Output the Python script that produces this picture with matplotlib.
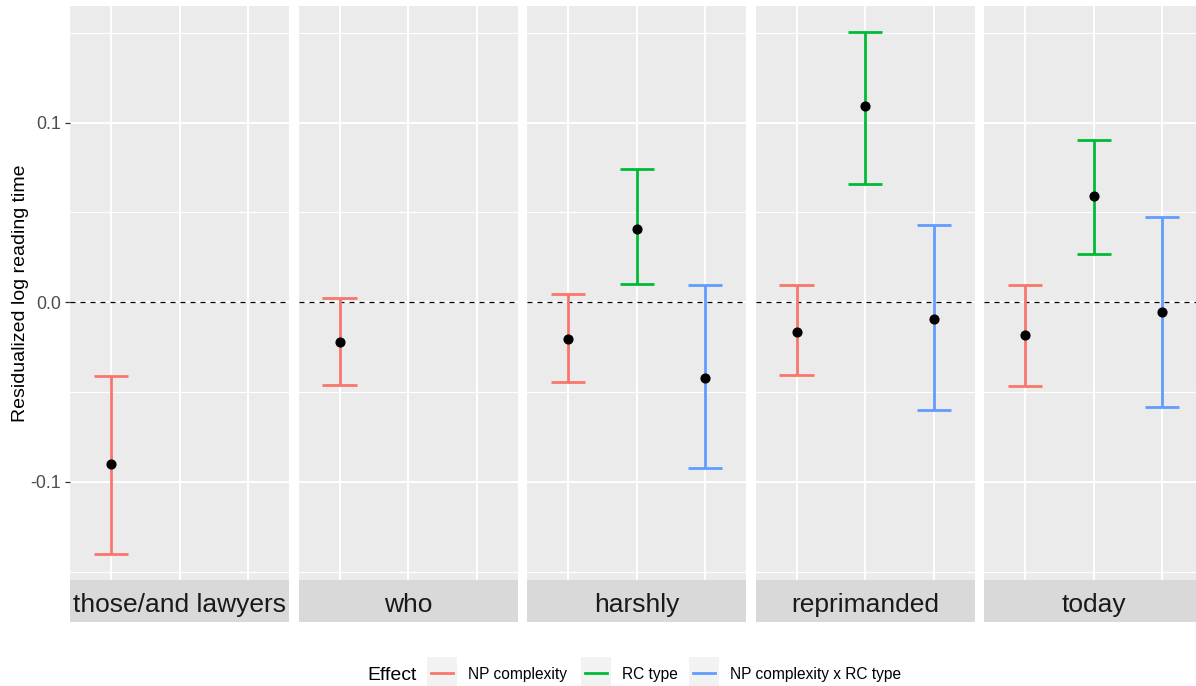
import numpy as np
import matplotlib.pyplot as plt
from matplotlib.patches import Rectangle
from matplotlib.lines import Line2D

plt.rcParams['font.family'] = ['Liberation Sans', 'DejaVu Sans']

# data (NaN = effect not estimated in that region)
regions = ["those/and lawyers", "who", "harshly", "reprimanded", "today"]
effects = ["NP complexity", "RC type", "NP complexity x RC type"]
colors = ["#F8766D", "#00BA38", "#619CFF"]

np_est = [-0.0903, -0.0224, -0.0203, -0.0165, -0.0181]
np_lo = [-0.1401, -0.0460, -0.0444, -0.0407, -0.0467]
np_hi = [-0.0408, 0.0021, 0.0047, 0.0094, 0.0094]

rc_est = [np.nan, np.nan, 0.0410, 0.1090, 0.0589]
rc_lo = [np.nan, np.nan, 0.0101, 0.0661, 0.0270]
rc_hi = [np.nan, np.nan, 0.0744, 0.1504, 0.0903]

int_est = [np.nan, np.nan, -0.0420, -0.0092, -0.0053]
int_lo = [np.nan, np.nan, -0.0923, -0.0602, -0.0585]
int_hi = [np.nan, np.nan, 0.0094, 0.0428, 0.0474]

est = np.array([np_est, rc_est, int_est])
lo = np.array([np_lo, rc_lo, int_lo])
hi = np.array([np_hi, rc_hi, int_hi])

W, H = 1196, 686
fig = plt.figure(figsize=(W / 100, H / 100), dpi=100)


def fx(px):
    return px / W


def fy(py):
    return 1 - py / H


# ggplot-like 5% expansion of the data range
ymin, ymax = np.nanmin(lo), np.nanmax(hi)
pad = 0.05 * (ymax - ymin)
ylim = (ymin - pad, ymax + pad)

panel_left, pitch, panel_w = 70, 228.5, 219.3
panel_top, panel_bot, strip_bot = 6, 580, 622

for i, region in enumerate(regions):
    left = panel_left + i * pitch
    ax = fig.add_axes([fx(left), fy(panel_bot), panel_w / W, (panel_bot - panel_top) / H])
    ax.set_facecolor("#EBEBEB")
    for s in ax.spines.values():
        s.set_visible(False)
    ax.set_xlim(0.4, 3.6)
    ax.set_ylim(*ylim)
    ax.set_xticks([1, 2, 3])
    ax.set_yticks([-0.1, 0.0, 0.1])
    ax.set_yticks([-0.15, -0.05, 0.05, 0.15], minor=True)
    ax.grid(which='major', color='white', linewidth=1.4)
    ax.grid(which='minor', axis='y', color='white', linewidth=0.8)
    ax.set_axisbelow(True)
    ax.tick_params(axis='x', length=0, labelbottom=False)
    ax.tick_params(axis='y', which='minor', length=0)
    if i == 0:
        ax.set_yticklabels(["-0.1", "0.0", "0.1"])
        ax.tick_params(axis='y', which='major', length=3.6, width=0.9, color='#333333',
                       pad=2.9, labelsize=12.8, labelcolor='#4D4D4D')
    else:
        ax.tick_params(axis='y', which='major', length=0, labelleft=False)

    ax.axhline(0, color='black', linestyle=(0, (4, 4)), linewidth=0.9, zorder=2)

    for k in range(len(effects)):
        if np.isnan(est[k, i]):
            continue
        x = k + 1
        ax.vlines(x, lo[k, i], hi[k, i], color=colors[k], linewidth=2, zorder=3)
        ax.hlines([lo[k, i], hi[k, i]], x - 0.25, x + 0.25, color=colors[k],
                  linewidth=2, zorder=3)
        ax.plot(x, est[k, i], 'o', color='black', markersize=6.3, zorder=4)

    # facet strip under the panel
    sax = fig.add_axes([fx(left), fy(strip_bot), panel_w / W, (strip_bot - panel_bot) / H])
    sax.set_facecolor("#D9D9D9")
    sax.set_xticks([])
    sax.set_yticks([])
    for s in sax.spines.values():
        s.set_visible(False)
    sax.text(0.5, 0.24, region, ha='center', va='baseline', fontsize=19,
             color='#1A1A1A', transform=sax.transAxes)

fig.text(fx(21), fy(293), "Residualized log reading time", rotation=90,
         ha='center', va='center', fontsize=14, color='black')

# legend at the bottom
fig.text(fx(367), fy(680.5), "Effect", ha='left', va='baseline', fontsize=14, color='black')
key_x = [427, 581, 689]
text_x = [468, 622, 730]
for k, lab in enumerate(effects):
    fig.patches.append(Rectangle((fx(key_x[k]), fy(688)), 30 / W, 31 / H,
                                 transform=fig.transFigure, facecolor='#F2F2F2',
                                 edgecolor='none'))
    fig.lines.append(Line2D([fx(key_x[k] + 4), fx(key_x[k] + 26)], [fy(672.5), fy(672.5)],
                            transform=fig.transFigure, color=colors[k], linewidth=2))
    fig.text(fx(text_x[k]), fy(679.5), lab, ha='left', va='baseline', fontsize=11.2,
             color='black')

fig.savefig("out.png", dpi=100)
